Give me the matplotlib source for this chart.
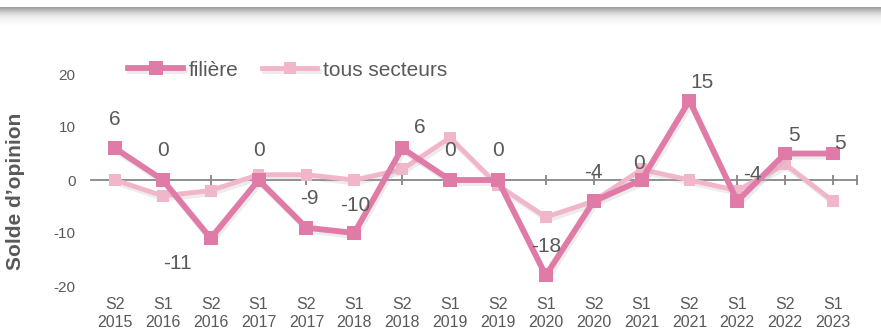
import matplotlib
matplotlib.use("Agg")
import matplotlib.pyplot as plt
import matplotlib.patheffects as pe
import numpy as np

plt.rcParams['font.family'] = ['Liberation Sans', 'DejaVu Sans']

categories = ["S2\n2015", "S1\n2016", "S2\n2016", "S1\n2017", "S2\n2017", "S1\n2018",
              "S2\n2018", "S1\n2019", "S2\n2019", "S1\n2020", "S2\n2020", "S1\n2021",
              "S2\n2021", "S1\n2022", "S2\n2022", "S1\n2023"]
filiere = [6, 0, -11, 0, -9, -10, 6, 0, 0, -18, -4, 0, 15, -4, 5, 5]
tous_secteurs = [0, -3, -2, 1, 1, 0, 2, 8, -1, -7, -4, 2, 0, -2, 3, -4]
y_ticks = [-20, -10, 0, 10, 20]

# label offsets (points) for the data labels of "filière"
label_offsets = [(0, 21), (0, 21), (-24, -18), (0, 21), (2, 21), (1, 20),
                 (13, 15), (0, 21), (0, 21), (0, 21), (0, 21), (-2, 12),
                 (9, 13), (11, 19), (6, 13), (5, 7)]

C_FIL = "#E07BA7"
C_TOUS = "#F2B6CB"
TXT = "#595959"

W, H = 881, 329
fig = plt.figure(figsize=(W / 100, H / 100), dpi=100)

# top gray gradient band
band = fig.add_axes([0, 1 - 25 / H, 1, 18 / H])
grad = np.linspace(0, 1, 100).reshape(-1, 1)
band.imshow(grad, aspect='auto', cmap=matplotlib.colors.LinearSegmentedColormap.from_list(
    "g", ["#9a9a9a", "#d8d8d8", "#f6f6f6", "#fdfdfd"]), extent=[0, 1, 0, 1])
band.axis('off')

ax = fig.add_axes([91 / W, (H - 286) / H, (857 - 91) / W, (286 - 74) / H])
x = np.arange(len(categories))

shadow = [pe.SimpleLineShadow(offset=(1.2, -2.2), shadow_color='#aaaaaa', alpha=0.22), pe.Normal()]

ax.plot(x, tous_secteurs, color=C_TOUS, lw=3.5, marker='s', markersize=8.5,
        markeredgewidth=0, label="tous secteurs", zorder=3, path_effects=shadow)
ax.plot(x, filiere, color=C_FIL, lw=4.2, marker='s', markersize=10,
        markeredgewidth=0, label="filière", zorder=4, path_effects=shadow)

for xi, v, off in zip(x, filiere, label_offsets):
    ax.annotate(str(v), (xi, v), xytext=off, textcoords='offset points',
                ha='center', va='center', fontsize=15, color=TXT, zorder=5)

ax.set_xlim(-0.5, len(categories) - 0.5)
ax.set_ylim(-20, 20)
ax.set_yticks(y_ticks)
ax.set_yticklabels([str(t) for t in y_ticks])
ax.tick_params(axis='y', length=0, pad=11, labelsize=11, labelcolor=TXT)

for s in ['top', 'right', 'left']:
    ax.spines[s].set_visible(False)
ax.spines['bottom'].set_position(('data', 0))
ax.spines['bottom'].set_color('#868686')
ax.spines['bottom'].set_linewidth(1.3)
ax.set_xticks(list(x[1:]) + [len(categories) - 0.5])
ax.tick_params(axis='x', direction='inout', length=7, width=1.3, color='#868686',
               labelbottom=False)

sec = ax.secondary_xaxis(0)
sec.set_xticks(x)
sec.set_xticklabels(categories, linespacing=1.2)
sec.tick_params(length=0, pad=8, labelsize=11.5, labelcolor=TXT)
sec.spines['bottom'].set_visible(False)

fig.text(16 / W, 1 - 191 / H, "Solde d’opinion", rotation=90, ha='center', va='center',
         fontsize=15, fontweight='bold', color=TXT)

handles, labels = ax.get_legend_handles_labels()
leg = ax.legend(handles[::-1], labels[::-1], loc='center left', bbox_to_anchor=(128 / W, 1 - 70 / H),
                bbox_transform=fig.transFigure, ncol=2, frameon=False, fontsize=15,
                handlelength=2.65, handletextpad=0.25, columnspacing=1.15, borderpad=0,
                borderaxespad=0, labelcolor=TXT)

fig.savefig("out.png", dpi=100, facecolor='white')
